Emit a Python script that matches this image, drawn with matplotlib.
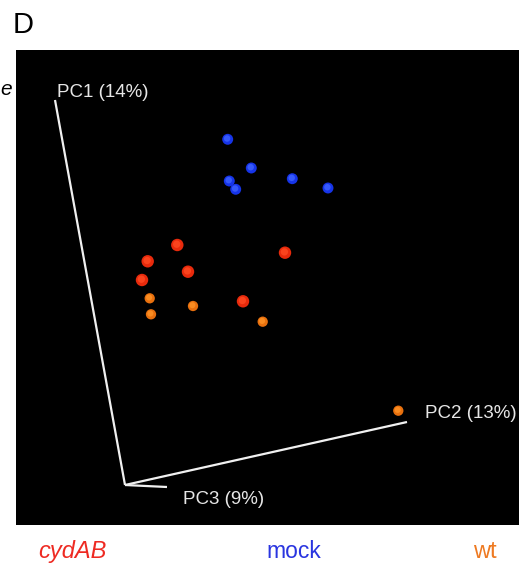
import matplotlib
matplotlib.use("Agg")
import matplotlib.pyplot as plt

plt.rcParams['font.family'] = ['Liberation Sans', 'DejaVu Sans']

W, H = 519, 565

mock_x = [227.7, 251.3, 229.3, 235.7, 292.3, 328.0]
mock_y = [139.3, 168.0, 181.0, 189.3, 178.7, 188.0]

cyd_x = [177.3, 147.7, 188.0, 142.0, 285.0, 243.0]
cyd_y = [245.0, 261.3, 271.7, 280.0, 252.7, 301.3]

wt_x = [149.7, 151.0, 193.0, 262.7, 398.3]
wt_y = [298.3, 314.3, 306.0, 321.7, 410.7]

# projected PC axes: origin and axis end points
axis_origin = (125, 485)
axis_ends = {"PC1 (14%)": (55, 100), "PC2 (13%)": (407, 422), "PC3 (9%)": (167, 487)}
group_names = ["cydAB", "mock", "wt"]

fig = plt.figure(figsize=(W / 100, H / 100), dpi=100)
fig.patch.set_facecolor("white")

# black 3D viewer panel
left, right, top, bottom = 16, 519, 50, 525
ax = fig.add_axes([left / W, 1 - bottom / H, (right - left) / W, (bottom - top) / H])
ax.set_facecolor("black")
ax.set_xlim(left, right)
ax.set_ylim(bottom, top)
ax.set_xticks([])
ax.set_yticks([])
for sp in ax.spines.values():
    sp.set_visible(False)

ox, oy = axis_origin
for name, (ex, ey) in axis_ends.items():
    ax.plot([ox, ex], [oy, ey], color="#f0f0f0", lw=1.6, solid_capstyle="butt")

txt = dict(color="#e6e6e6", fontsize=13.5)
ax.text(57, 97, "PC1 (14%)", ha="left", va="baseline", **txt)
ax.text(425, 418, "PC2 (13%)", ha="left", va="baseline", **txt)
ax.text(183, 504, "PC3 (9%)", ha="left", va="baseline", **txt)


def spheres(xs, ys, dark, light, size):
    # a darker rim with a lighter core gives the shaded-ball look
    ax.scatter(xs, ys, s=size, color=dark, edgecolors="none", zorder=3)
    ax.scatter([x - 0.6 for x in xs], [y - 0.8 for y in ys], s=size * 0.35,
               color=light, edgecolors="none", zorder=4, alpha=0.8)


spheres(mock_x, mock_y, "#1634e8", "#3f63ff", 62)
spheres(cyd_x, cyd_y, "#e82a0c", "#ff4a22", 80)
spheres(wt_x, wt_y, "#e8700e", "#ff9426", 55)

# panel letter and cropped neighbour text
fig.text(13 / W, 1 - 33 / H, "D", fontsize=21, ha="left", va="baseline")
fig.text(0 / W, 1 - 95 / H, "e", fontsize=15, style="italic", ha="left", va="baseline")

# group legend under the panel
fig.text(72 / W, 1 - 558 / H, group_names[0], color="#ee2a22", fontsize=17,
         style="italic", ha="center", va="baseline")
fig.text(294 / W, 1 - 558 / H, group_names[1], color="#2a35e0", fontsize=16.5,
         ha="center", va="baseline")
fig.text(485 / W, 1 - 558 / H, group_names[2], color="#ee7a22", fontsize=17,
         ha="center", va="baseline")

fig.savefig("out.png", dpi=100, facecolor="white")
